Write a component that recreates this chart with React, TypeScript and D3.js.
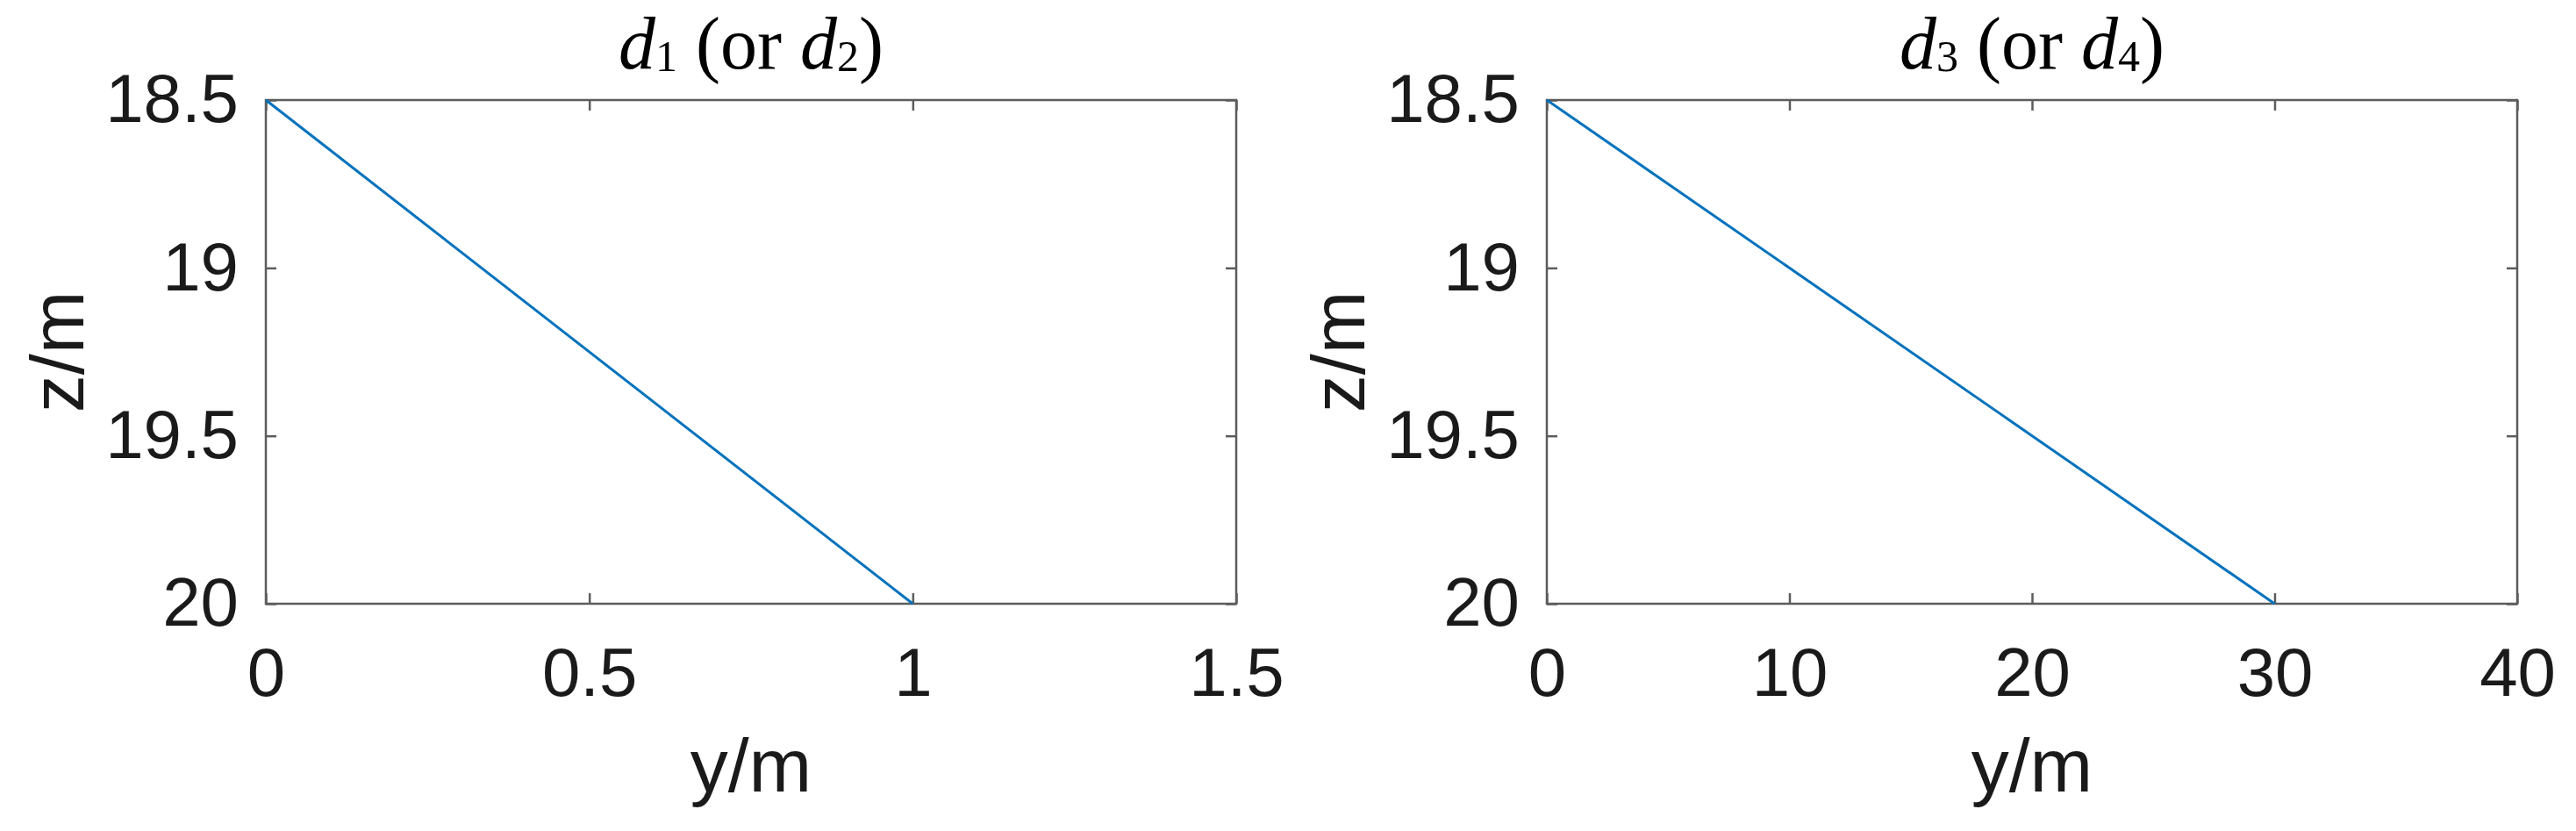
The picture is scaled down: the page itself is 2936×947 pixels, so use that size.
import React, { useEffect, useRef } from 'react'
import { select, scaleLinear, axisBottom, axisLeft, axisTop, axisRight, line } from 'd3'

// ----- data -----
const depthTicks = [18.5, 19, 19.5, 20]
const leftXTicks = [0, 0.5, 1, 1.5]
const rightXTicks = [0, 10, 20, 30, 40]
const leftLine = [{ y: 0, z: 18.5 }, { y: 1, z: 20 }]
const rightLine = [{ y: 0, z: 18.5 }, { y: 30, z: 20 }]
const panels = [
  { id: 'a', sym: 'd', sub1: '1', sub2: '2', xTicks: leftXTicks, xMax: 1.5, data: leftLine },
  { id: 'b', sym: 'd', sub1: '3', sub2: '4', xTicks: rightXTicks, xMax: 40, data: rightLine },
]

const W = 2936
const H = 947
const top = 114
const bottom = 688
const lefts = [303, 1763]
const plotW = 1106
const tickFont = 78
const labelFont = 86
const sans = '"Liberation Sans", Arial, Helvetica, sans-serif'
const serif = '"Liberation Serif", "Times New Roman", serif'
const axisColor = '#5c5c5c'
const lineColor = '#0072BD'

const Panel = ({ panel, x0 }) => {
  const gRef = useRef()

  useEffect(() => {
    const g = select(gRef.current)
    g.selectAll('*').remove()

    const xScale = scaleLinear().domain([0, panel.xMax]).range([0, plotW])
    const yScale = scaleLinear().domain([18.5, 20]).range([0, bottom - top])
    const h = bottom - top

    // box
    g.append('rect')
      .attr('width', plotW).attr('height', h)
      .attr('fill', 'white')

    const fmt = d => String(d)

    // bottom axis with labels
    const bx = g.append('g').attr('transform', `translate(0,${h})`)
      .call(axisBottom(xScale).tickValues(panel.xTicks).tickSizeInner(-12).tickSizeOuter(0).tickPadding(50).tickFormat(fmt))
    // left axis with labels
    const ly = g.append('g')
      .call(axisLeft(yScale).tickValues(depthTicks).tickSizeInner(-12).tickSizeOuter(0).tickPadding(31).tickFormat(fmt))
    // top + right: ticks only
    const tx = g.append('g')
      .call(axisTop(xScale).tickValues(panel.xTicks).tickSizeInner(-12).tickSizeOuter(0).tickFormat(() => ''))
    const ry = g.append('g').attr('transform', `translate(${plotW},0)`)
      .call(axisRight(yScale).tickValues(depthTicks).tickSizeInner(-12).tickSizeOuter(0).tickFormat(() => ''))

    ;[bx, ly, tx, ry].forEach(a => {
      a.select('.domain').remove()
      a.selectAll('line').attr('stroke', axisColor).attr('stroke-width', 2.5)
      a.selectAll('text')
        .attr('font-family', sans)
        .attr('font-size', tickFont)
        .attr('fill', '#1a1a1a')
    })

    g.append('rect')
      .attr('width', plotW).attr('height', h)
      .attr('fill', 'none')
      .attr('stroke', axisColor)
      .attr('stroke-width', 2.5)

    // the line
    const path = line().x(d => xScale(d.y)).y(d => yScale(d.z))
    g.append('path')
      .datum(panel.data)
      .attr('d', path)
      .attr('fill', 'none')
      .attr('stroke', lineColor)
      .attr('stroke-width', 3)

    // axis labels
    g.append('text')
      .attr('x', plotW / 2).attr('y', 902)
      .attr('text-anchor', 'middle')
      .attr('font-family', sans).attr('font-size', labelFont).attr('fill', '#1a1a1a')
      .text('y/m')
      .attr('transform', `translate(0,${-top})`)

    g.append('text')
      .attr('transform', `translate(-208,${h / 2}) rotate(-90)`)
      .attr('text-anchor', 'middle')
      .attr('font-family', sans).attr('font-size', labelFont).attr('fill', '#1a1a1a')
      .text('z/m')

    // title
    const t = g.append('text')
      .attr('x', plotW / 2).attr('y', 78 - top)
      .attr('text-anchor', 'middle')
      .attr('font-family', serif).attr('font-size', 84).attr('fill', '#000')
    t.append('tspan').attr('font-style', 'italic').text(panel.sym)
    t.append('tspan').attr('font-size', 50).attr('dy', 3).text(panel.sub1)
    t.append('tspan').attr('dy', -3).text(' (or ')
    t.append('tspan').attr('font-style', 'italic').text(panel.sym)
    t.append('tspan').attr('font-size', 50).attr('dy', 3).text(panel.sub2)
    t.append('tspan').attr('dy', -3).text(')')
  }, [panel])

  return <g ref={gRef} transform={`translate(${x0},${top})`} />
}

export default function App() {
  return (
    <svg width={W} height={H} style={{ position: 'absolute', left: 0, top: 0, background: 'white' }}>
      <rect width={W} height={H} fill="white" />
      {panels.map((p, i) => <Panel key={p.id} panel={p} x0={lefts[i]} />)}
    </svg>
  )
}
